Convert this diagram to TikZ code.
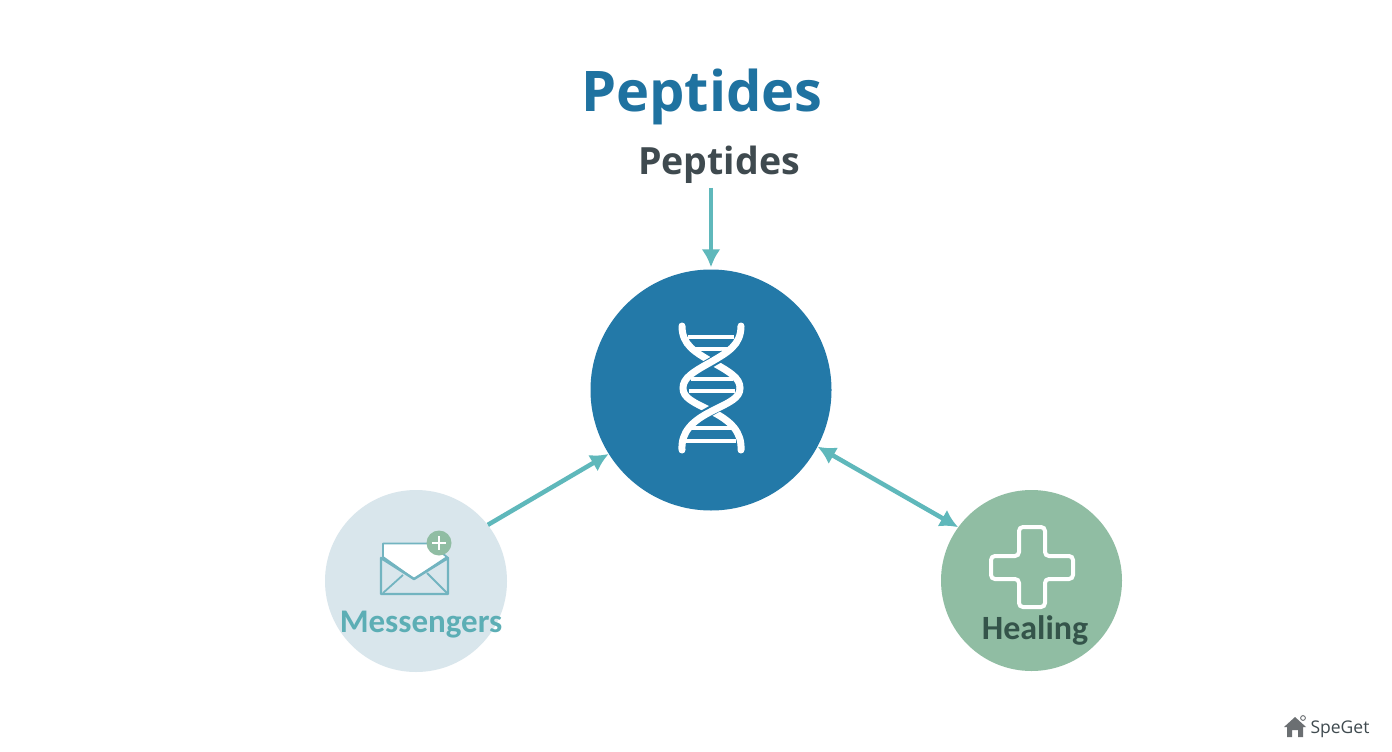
\documentclass[tikz,border=0pt]{standalone}
\usepackage{fontspec}
\setmainfont{Open Sans}
\newfontfamily\lblfont{Carlito}
\usetikzlibrary{arrows.meta}
\definecolor{mainblue}{HTML}{2379A8}
\definecolor{titleblue}{HTML}{1F72A0}
\definecolor{subgrey}{HTML}{3F4A4F}
\definecolor{teal1}{HTML}{5FB8BB}
\definecolor{msgfill}{HTML}{D9E6EC}
\definecolor{healfill}{HTML}{90BDA3}
\definecolor{healtext}{HTML}{34544A}
\definecolor{msgtext}{HTML}{5CAEB5}
\definecolor{envline}{HTML}{72B4C0}
\definecolor{housegrey}{HTML}{6B6F72}
\tikzset{
  circ/.style={circle,inner sep=0pt,minimum size=#1},
  conn/.style={teal1,line width=4.5pt},
  strand/.style={white,line width=7pt,line cap=round},
  gapline/.style={mainblue,line width=10pt},
  rung/.style={white,line width=3.2pt},
  label/.style={inner sep=0pt,font=\lblfont\fontsize{#1}{#1}\selectfont\bfseries},
  tlabel/.style={inner sep=0pt,font=\fontsize{#1}{#1}\selectfont\bfseries}
}
\begin{document}
\begin{tikzpicture}[x=1pt,y=-1pt,>={Latex[length=18pt,width=19pt]}]
\useasboundingbox (0,0) rectangle (1392,752);
\fill[white] (0,0) rectangle (1392,752);
% circles
\node[circ=241pt,fill=mainblue] (main) at (711,390) {};
\node[circ=182pt,fill=msgfill] (msg) at (416,581) {};
\node[circ=181pt,fill=healfill] (heal) at (1031.5,580.5) {};
% titles
\node[tlabel=56,text=titleblue] (title) at (702,97) {Peptides};
\node[tlabel=37.5,text=subgrey] (sub) at (719,165) {Peptides};
% connectors
\draw[conn,->] (sub.south -| main.north) ++(0,4) -- ([yshift=2pt]main.north);
\draw[conn,->] (msg.38) -- (main.212);
\draw[conn,<->] (main.332) -- (heal.144);
% DNA
\foreach \y/\a/\b in {337/688/734,349/690/732,379/691/733,391/689/735,428/691/733,441/686/736}
  \draw[rung] (\a,\y) -- (\b,\y);
\draw[strand] (682,326) .. controls (682,345) and (695,352) .. (712,362)
  .. controls (730,372) and (740,378) .. (740,388);
\draw[gapline] (724,355) -- (699,369.5);
\draw[strand] (741,326) .. controls (741,345) and (728,352) .. (711,362)
  .. controls (693,372) and (683,378) .. (683,388)
  .. controls (683,398) and (693,402) .. (711,411)
  .. controls (731,421) and (742,432) .. (741,450);
\draw[gapline] (699,417.5) -- (724,403.5);
\draw[strand] (740,388)
  .. controls (740,398) and (730,402) .. (712,411)
  .. controls (692,421) and (681,432) .. (682,450);
% envelope
\draw[envline,line width=1.8pt,line join=round,fill=white] (383,557) -- (383,543.5) -- (430,543.5) -- (447,557) -- (414,579) -- cycle;
\draw[envline,line width=2.4pt,line join=round] (381,558) -- (381,594) -- (448,594) -- (448,558) -- (414,579) -- cycle;
\draw[envline,line width=1.8pt] (383,593) -- (403,575) (447,593) -- (427,573);
\node[circ=25pt,fill=healfill] (badge) at (439,543) {};
\draw[white,line width=2.6pt] (432,543) -- (446,543) (439,536) -- (439,550);
\node[label=33,text=msgtext] (msgl) at (421,625) {Messengers};
% cross
\draw[white,line width=4pt,rounded corners=4pt] (1019,527) -- (1045,527) -- (1045,556) -- (1073,556) -- (1073,579) -- (1045,579) -- (1045,607) -- (1019,607) -- (1019,579) -- (991,579) -- (991,556) -- (1019,556) -- cycle;
\node[label=34,text=healtext] (heall) at (1035,630) {Healing};
% logo
\fill[housegrey] (1284,727) -- (1295,717) -- (1306,727) -- (1303,727) -- (1303,737) -- (1298,737) -- (1298,730) -- (1292,730) -- (1292,737) -- (1287,737) -- (1287,727) -- cycle;
\draw[housegrey,line width=0.9pt] (1303,718) circle (2.4pt);
\node[inner sep=0pt,font=\fontsize{17.5}{17.5}\selectfont,text=subgrey] (logo) at (1340,729) {SpeGet};
\end{tikzpicture}
\end{document}
